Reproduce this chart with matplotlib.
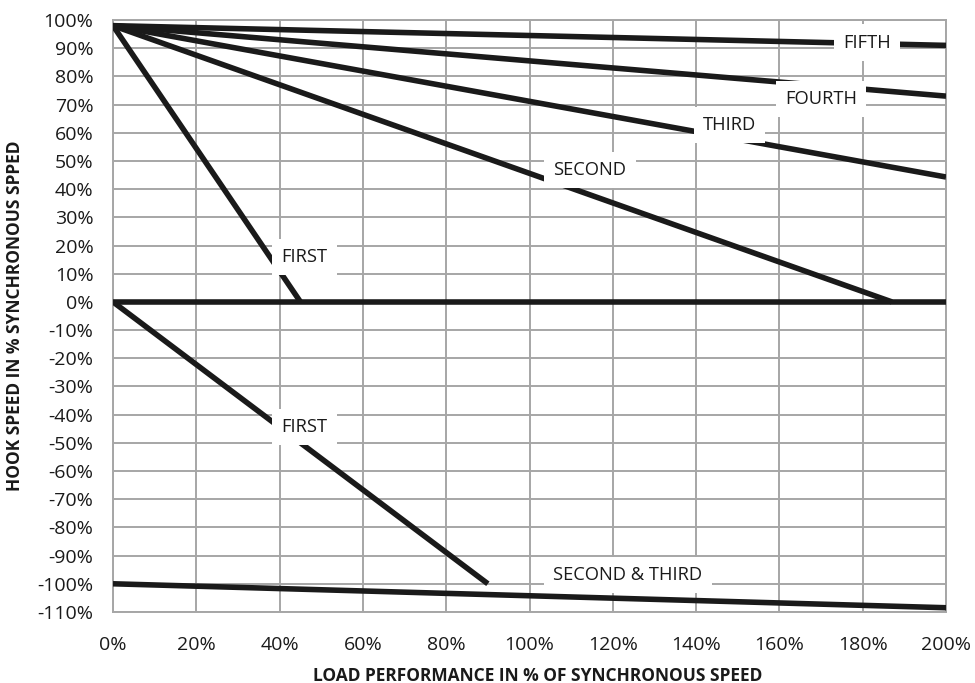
import matplotlib
matplotlib.use("Agg")
import matplotlib.pyplot as plt
from matplotlib.ticker import MultipleLocator, FuncFormatter

plt.rcParams['font.family'] = ['Open Sans', 'DejaVu Sans']

# Data (x: load %, y: hook speed %)
first_up_x = [0, 45]
first_up_y = [98, 0]
second_x = [0, 187]
second_y = [98, 0]
third_x = [0, 200]
third_y = [98, 44.3]
fourth_x = [0, 200]
fourth_y = [98, 73]
fifth_x = [0, 200]
fifth_y = [98, 91]
zero_x = [0, 200]
zero_y = [0, 0]
first_down_x = [0, 90]
first_down_y = [0, -100]
sec_third_x = [0, 200]
sec_third_y = [-100, -108.5]

labels = ["FIFTH", "FOURTH", "THIRD", "SECOND", "FIRST", "FIRST", "SECOND & THIRD"]
label_x = [181, 170, 148, 114.5, 46, 46, 123.6]
label_y = [92, 72, 62.8, 46.8, 16, -44.3, -96.8]

fig = plt.figure(figsize=(9.75, 6.83), dpi=100)
ax = fig.add_axes([0.1159, 0.104, 0.8544, 0.8667])

lw = 4.0
col = '#1a1a1a'
for xs, ys in [(first_up_x, first_up_y), (second_x, second_y), (third_x, third_y),
               (fourth_x, fourth_y), (fifth_x, fifth_y), (zero_x, zero_y),
               (first_down_x, first_down_y), (sec_third_x, sec_third_y)]:
    ax.plot(xs, ys, color=col, lw=lw, solid_capstyle='butt', zorder=3)

for t, x, y in zip(labels, label_x, label_y):
    ax.text(x, y, t, ha='center', va='center', fontsize=13.2, color='#1a1a1a', zorder=5,
            bbox=dict(boxstyle='square,pad=0.5', fc='white', ec='none'))

ax.set_xlim(0, 200)
ax.set_ylim(-110, 100)
ax.xaxis.set_major_locator(MultipleLocator(20))
ax.yaxis.set_major_locator(MultipleLocator(10))
ax.xaxis.set_major_formatter(FuncFormatter(lambda v, p: f"{v:.0f}%"))
ax.yaxis.set_major_formatter(FuncFormatter(lambda v, p: f"{v:.0f}%"))
ax.grid(True, color='#a6a6a6', lw=1.4, zorder=0)
ax.set_axisbelow(True)
for s in ax.spines.values():
    s.set_color('#a6a6a6')
    s.set_linewidth(1.4)
ax.tick_params(length=0, labelsize=14, colors='#1a1a1a')
ax.tick_params(axis='y', pad=14)
ax.tick_params(axis='x', pad=17)
ax.set_xlabel("LOAD PERFORMANCE IN % OF SYNCHRONOUS SPEED", fontsize=12.5,
              fontweight='bold', color='#1a1a1a', va='center')
ax.set_ylabel("HOOK SPEED IN % SYNCHRONOUS SPPED", fontsize=12.5,
              fontweight='bold', color='#1a1a1a', va='center')
ax.xaxis.set_label_coords(0.51, -0.108)
ax.yaxis.set_label_coords(-0.1176, 0.5)

fig.savefig("out.png", dpi=100)
